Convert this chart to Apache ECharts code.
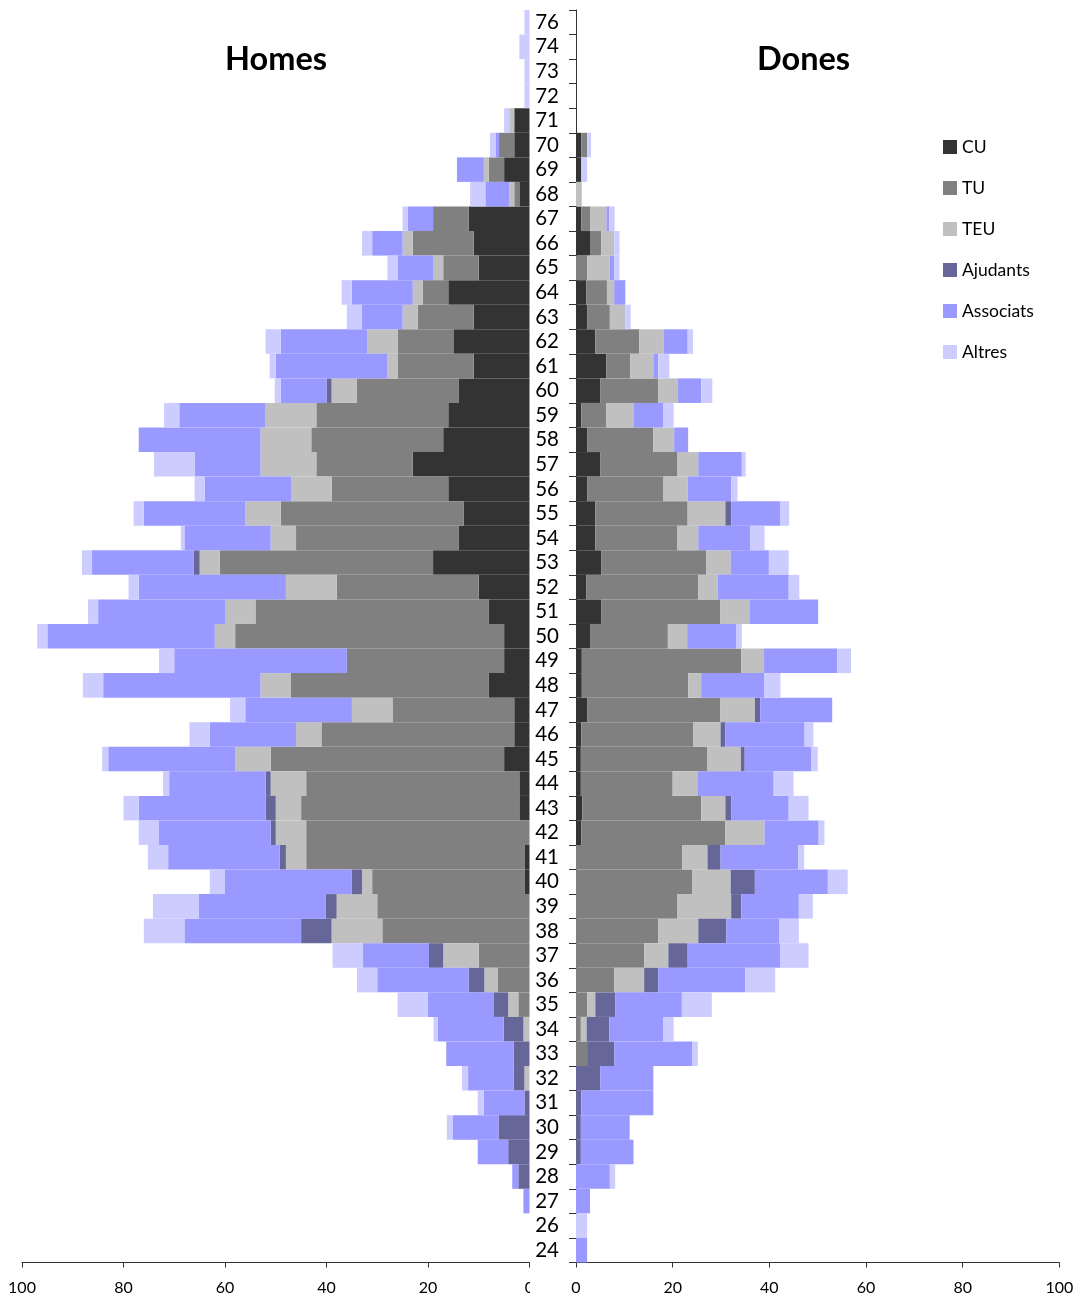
<!DOCTYPE html>
<html>
<head>
<meta charset="utf-8">
<script src="https://cdn.jsdelivr.net/npm/echarts@6/dist/echarts.min.js"></script>
<style>
html,body{margin:0;padding:0;background:#fff;}
#chart{width:1083px;height:1302px;}
</style>
</head>
<body>
<div id="chart"></div>
<script>
const ages = ['76','74','73','72','71','70','69','68','67','66','65','64','63','62','61','60','59','58','57','56','55','54','53','52','51','50','49','48','47','46','45','44','43','42','41','40','39','38','37','36','35','34','33','32','31','30','29','28','27','26','24'];
const seriesNames = ['CU','TU','TEU','Ajudants','Associats','Altres'];
const seriesColors = ['#333333','#808080','#c0c0c0','#666699','#9999ff','#ccccff'];
const xTicks = [0,20,40,60,80,100];

// Homes (left)
const homesCU =     [0,0,0,0, 3,3,5,2,12,11,10,16,11,15,11,14, 16,17,23,16,13,14,19,10,8,5,5,8, 3,3,5,2,2,0,1,1, 0,0,0,0,0,0,0,0,0,0,0,0,0,0,0];
const homesTU =     [0,0,0,0, 0,3,3,1,7,12,7,5,11,11,15,20, 26,26,19,23,36,32,42,28,46,53,31,39, 24,38,46,42,43,44,43,30, 30,29,10,6.3,2.2,0,0,0,0,0,0,0,0,0,0];
const homesTEU =    [0,0,0,0, 1,0,1,1,0,2,2,2,3,6,2,5, 10,10,11,8,7,5,4,10,6,4,0,6, 8,5,7,7,5,6,4,2, 8,10,7,2.6,2,1.2,0,1,0,0,0,0,0,0,0];
const homesAjud =   [0,0,0,0, 0,0,0,0,0,0,0,0,0,0,0,1, 0,0,0,0,0,0,1.2,0,0,0,0,0, 0,0,0,1,2,1,1.2,2, 2.2,6,2.8,3.1,2.8,3.9,3.1,2.1,1,6.1,4.2,2.2,0,0,0];
const homesAssoc =  [0,0,0,0, 0,0.6,5.3,4.7,5,6,7,12,8,17,22,9, 17,24,13,17,20,17,20,29,25,33,34,31, 21,17,25,19,25,22,22,25, 25,23,13,18,13,13,13.3,9,8,9,6,1.2,1.2,0,0];
const homesAltres = [1,2,1,1, 1,1.2,0,3,1,2,2,2,3,3,1.2,1.2, 3,0,8,2,2,0.7,2,2,2,2,3,4, 3,4,1.2,1.2,3,4,4,3, 9,8,6,4,6,0.8,0,1.2,1.2,1.2,0,0,0,0,0];

// Dones (right)
const donesCU =     [0,0,0,0,0, 1.1,1.1,0,1.1,2.9,0,2.1,2.3,4,6.3,5, 1.1,2.3,5,2.3,4,4,5.2,2.1,5.2,2.9,1.2,1.2, 2.3,1.1,1,1,1.3,1.1,0,0, 0,0,0,0,0,0,0,0,0,0,0,0,0,0,0];
const donesTU =     [0,0,0,0,0, 1.2,0,0,1.8,2.3,2.3,4.3,4.7,9.1,4.9,12, 5.2,13.7,16,15.8,19.1,17,21.7,23.2,24.6,16.1,33,22, 27.5,23.2,26.1,19,24.6,29.8,22,24, 21,17,14.1,7.9,2.3,1,2.3,0,0,0,0,0,0,0,0];
const donesTEU =    [0,0,0,0,0, 0,0,1.2,3.4,2.7,4.7,1.5,3.2,5,4.8,4, 5.7,4.3,4.3,5,7.8,4.3,5.1,4,6.2,4,4.7,2.7, 7.2,5.6,7,5.1,5,8.1,5.2,8, 11.1,8.3,5,6.2,1.7,1.2,0,0,0,0,0,0,0,0,0];
const donesAjud =   [0,0,0,0,0, 0,0,0,0,0,0,0,0,0,0,0, 0,0,0,0,1.2,0,0,0,0,0,0,0, 1.1,1,0.8,0,1.2,0,2.7,5, 2.1,5.8,4,2.9,4.1,4.7,5.6,5,1.1,1,1,0,0,0,0];
const donesAssoc =  [0,0,0,0,0, 0,0,0,0.6,0,0.9,2.3,0,5,1,4.9, 6,2.9,9,9,10.2,10.8,7.9,14.7,14.1,10.1,15.1,13.1, 14.9,16.4,13.8,15.8,11.9,11.2,16.1,15.1, 11.9,10.9,19.2,18,13.8,11.1,16.1,11,14.9,10.1,10.9,7,2.9,0,2.3];
const donesAltres = [0,0,0,0,0, 0.8,1.2,0,1.1,1.1,1.1,0,1.1,1.1,2.3,2.3, 2.2,0,0.8,1.3,1.8,2.9,4.1,2.2,0,1.2,2.9,3.3, 0,1.8,1.3,4.1,4.1,1.2,1.2,4.1, 2.9,4.1,5.8,6.2,6.2,2.2,1.2,0,0,0,0,1.1,0,2.3,0];

const homesData = [homesCU, homesTU, homesTEU, homesAjud, homesAssoc, homesAltres];
const donesData = [donesCU, donesTU, donesTEU, donesAjud, donesAssoc, donesAltres];

const FONT = 'Lato';
const chart = echarts.init(document.getElementById('chart'), null, {renderer:'canvas'});

const gridTop = 10, gridHeight = 1252.5;
const series = [];
seriesNames.forEach((n, i) => {
  series.push({
    name: n, type: 'bar', stack: 'homes', xAxisIndex: 0, yAxisIndex: 0,
    data: homesData[i], barCategoryGap: '0%', itemStyle: {color: seriesColors[i]},
    emphasis: {disabled: true}
  });
});
seriesNames.forEach((n, i) => {
  series.push({
    name: n, type: 'bar', stack: 'dones', xAxisIndex: 1, yAxisIndex: 1,
    data: donesData[i], barCategoryGap: '0%', itemStyle: {color: seriesColors[i]},
    emphasis: {disabled: true}
  });
});

const xAxisCommon = {
  type: 'value', min: 0, max: 100, interval: 20,
  axisLine: {show: true, lineStyle: {color: '#333', width: 1}},
  axisTick: {show: true, length: 5, lineStyle: {color: '#333'}},
  splitLine: {show: false},
  axisLabel: {color: '#000', fontSize: 16, fontFamily: FONT, margin: 17,
    formatter: v => xTicks.indexOf(v) >= 0 ? String(v) : ''}
};

chart.setOption({
  animation: false,
  backgroundColor: '#fff',
  textStyle: {fontFamily: FONT},
  title: [
    {text: 'Homes', left: 220, top: 38,
      textStyle: {fontSize: 32.5, fontWeight: 'bold', color: '#000', fontFamily: FONT}},
    {text: 'Dones', left: 752, top: 38,
      textStyle: {fontSize: 32.5, fontWeight: 'bold', color: '#000', fontFamily: FONT}}
  ],
  legend: {
    data: seriesNames, orient: 'vertical', left: 943, top: 138, padding: 0,
    itemWidth: 14, itemHeight: 14, itemGap: 23, icon: 'rect',
    textStyle: {fontSize: 17.5, color: '#000', fontFamily: FONT},
    selectedMode: false
  },
  grid: [
    {left: 22, top: gridTop, width: 507.5, height: gridHeight},
    {left: 576, top: gridTop, width: 483.4, height: gridHeight}
  ],
  xAxis: [
    Object.assign({}, xAxisCommon, {gridIndex: 0, inverse: true}),
    Object.assign({}, xAxisCommon, {gridIndex: 1})
  ],
  yAxis: [
    {type: 'category', gridIndex: 0, data: ages, inverse: true, show: false},
    {type: 'category', gridIndex: 1, data: ages, inverse: true, position: 'left',
      axisLine: {show: true, lineStyle: {color: '#333', width: 1}},
      axisTick: {show: true, length: 7, inside: false, interval: 0, lineStyle: {color: '#333'}},
      axisLabel: {color: '#000', fontSize: 20.5, fontFamily: FONT, margin: 17, interval: 0, hideOverlap: false}
    }
  ],
  graphic: [
    {type: 'rect', shape: {x: 530, y: 1270, width: 39, height: 30}, style: {fill: '#fff'}, z: 100}
  ],
  series: series
});
</script>
</body>
</html>
